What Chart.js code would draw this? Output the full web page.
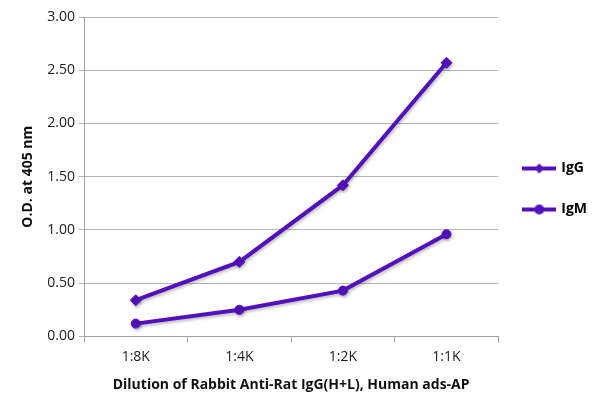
<!DOCTYPE html>
<html>
<head>
<meta charset="utf-8">
<script src="https://cdn.jsdelivr.net/npm/chart.js@4"></script>
<style>
  html, body { margin: 0; padding: 0; background: #fff; }
  #wrap { width: 600px; height: 409px; }
</style>
</head>
<body>
<div id="wrap"><canvas id="chart"></canvas></div>
<script>
const dilutions = ["1:8K", "1:4K", "1:2K", "1:1K"];
const igG = [0.34, 0.70, 1.42, 2.57];
const igM = [0.12, 0.25, 0.43, 0.96];
const seriesNames = ["IgG", "IgM"];

const purple = "#5310bd";
const font = "'Open Sans', 'DejaVu Sans', sans-serif";

// small legend swatch: line with the series marker in the middle
function swatch(kind) {
    const c = document.createElement("canvas");
    c.width = 34; c.height = 12;
    const g = c.getContext("2d");
    g.strokeStyle = purple;
    g.fillStyle = purple;
    g.lineWidth = 4;
    g.beginPath();
    g.moveTo(0, 6);
    g.lineTo(34, 6);
    g.stroke();
    g.beginPath();
    if (kind === "diamond") {
        g.moveTo(17, 1); g.lineTo(22, 6); g.lineTo(17, 11); g.lineTo(12, 6);
        g.closePath();
    } else {
        g.arc(17, 6, 5, 0, Math.PI * 2);
    }
    g.fill();
    return c;
}
const swatches = [swatch("diamond"), swatch("circle")];

const shadow = {
    id: "shadow",
    beforeDatasetsDraw(chart) {
        const ctx = chart.ctx;
        ctx.save();
        ctx.shadowColor = "rgba(0,0,0,0.25)";
        ctx.shadowBlur = 3;
        ctx.shadowOffsetX = 1;
        ctx.shadowOffsetY = 2;
    },
    afterDatasetsDraw(chart) {
        chart.ctx.restore();
    }
};

// nudge the legend a little, like the original
const legendShift = {
    id: "legendShift",
    afterLayout(chart) {
        const lg = chart.legend;
        if (lg) {
            lg.top -= 18;
            lg.bottom -= 18;
            lg.left -= 1;
            lg.right -= 1;
        }
    }
};

new Chart(document.getElementById("chart"), {
    type: "line",
    data: {
        labels: dilutions,
        datasets: [
            {
                label: seriesNames[0],
                data: igG,
                borderColor: purple,
                backgroundColor: purple,
                borderWidth: 4,
                pointStyle: "rectRot",
                pointRadius: 5.5,
                pointBorderWidth: 1,
                pointHoverRadius: 5.5,
                tension: 0
            },
            {
                label: seriesNames[1],
                data: igM,
                borderColor: purple,
                backgroundColor: purple,
                borderWidth: 4,
                pointStyle: "circle",
                pointRadius: 4.5,
                pointBorderWidth: 1,
                pointHoverRadius: 4.5,
                tension: 0
            }
        ]
    },
    options: {
        responsive: true,
        maintainAspectRatio: false,
        animation: false,
        layout: { padding: { top: 17, right: 2, bottom: 12, left: 14 } },
        plugins: {
            tooltip: { enabled: false },
            legend: {
                position: "right",
                labels: {
                    usePointStyle: true,
                    pointStyleWidth: 30,
                    padding: 27,
                    color: "#111",
                    font: { family: font, size: 14, weight: "bold" },
                    generateLabels(chart) {
                        return chart.data.datasets.map((ds, i) => ({
                            text: ds.label,
                            pointStyle: swatches[i],
                            fillStyle: purple,
                            strokeStyle: purple,
                            lineWidth: 0,
                            hidden: false,
                            datasetIndex: i
                        }));
                    }
                }
            }
        },
        scales: {
            x: {
                offset: true,
                grid: {
                    offset: true,
                    drawOnChartArea: false,
                    drawTicks: true,
                    tickLength: 6,
                    color: "#a0a0a0"
                },
                border: { color: "#a0a0a0", width: 1 },
                ticks: {
                    color: "#222",
                    padding: 6,
                    font: { family: font, size: 14 }
                },
                title: {
                    display: true,
                    text: "Dilution of Rabbit Anti-Rat IgG(H+L), Human ads-AP",
                    color: "#111",
                    padding: { top: 5 },
                    font: { family: font, size: 14, weight: "bold" }
                }
            },
            y: {
                min: 0,
                max: 3,
                afterFit(scale) { scale.width = 70; },
                grid: {
                    color: "#b4b4b4",
                    drawTicks: true,
                    tickLength: 5,
                    lineWidth: 1
                },
                border: { color: "#a0a0a0", width: 1 },
                ticks: {
                    stepSize: 0.5,
                    color: "#222",
                    padding: 4,
                    font: { family: font, size: 14 },
                    callback: v => v.toFixed(2)
                },
                title: {
                    display: true,
                    text: "O.D. at 405 nm",
                    color: "#111",
                    padding: { top: 6, bottom: 0 },
                    font: { family: font, size: 14, weight: "bold" }
                }
            }
        }
    },
    plugins: [shadow, legendShift]
});
</script>
</body>
</html>
